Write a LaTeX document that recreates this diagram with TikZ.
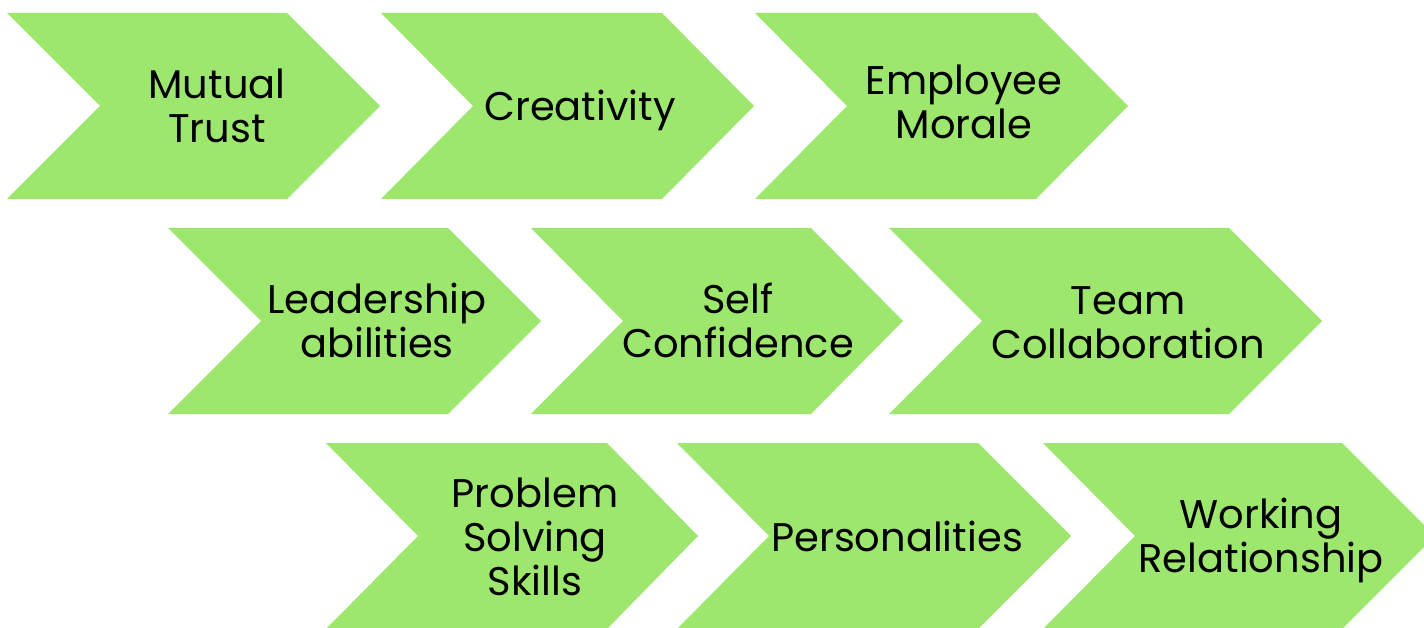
\documentclass[tikz,border=0pt]{standalone}
\usepackage{fontspec}
\setmainfont{Poppins}
\definecolor{chevgreen}{RGB}{158,231,110}
\tikzset{
  chev/.style={fill=chevgreen},
  lbl/.style={anchor=base, align=center, inner sep=0pt, text=black,
    font=\fontsize{40}{44}\selectfont}
}
\newcommand\chevshape[5]{%
  \fill[chev] (#1,#5) -- (#3,#5) -- (#4,{#5+93}) -- (#3,{#5+186}) -- (#1,{#5+186}) -- (#2,{#5+93}) -- cycle;}
\begin{document}
\begin{tikzpicture}[x=1pt,y=-1pt]
\useasboundingbox (0,0) rectangle (1424,628);
\begin{scope}
\clip (0,0) rectangle (1424,628);
% row 1
\chevshape{7}{100}{287}{380}{13}
\chevshape{381}{473}{662}{754}{13}
\chevshape{755}{847}{1036}{1128}{13}
% row 2
\chevshape{168}{261}{448}{541}{228}
\chevshape{531}{623}{811}{903}{228}
\chevshape{889}{982}{1229}{1322}{228}
% row 3
\chevshape{326}{418}{607}{698}{443}
\chevshape{677}{769}{978}{1071}{443}
\chevshape{1043}{1135}{1342}{1435}{443}
\end{scope}
% labels (anchored at last-line baseline)
\node[lbl] (t1) at (217,143) {Mutual\\Trust};
\node[lbl] (t2) at (580,121) {Creativity};
\node[lbl] (t3) at (964,139) {Employee\\Morale};
\node[lbl] (t4) at (377,357) {Leadership\\abilities};
\node[lbl] (t5) at (738,357) {Self\\Confidence};
\node[lbl] (t6) at (1128,358) {Team\\Collaboration};
\node[lbl] (t7) at (535,595) {Problem\\Solving\\Skills};
\node[lbl] (t8) at (897,551) {Personalities};
\node[lbl] (t9) at (1261,572) {Working\\Relationship};
\end{tikzpicture}
\end{document}
